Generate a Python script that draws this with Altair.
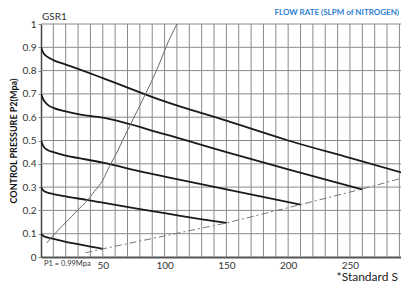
import altair as alt
import pandas as pd

# pressure curves (flow SLPM, P2 MPa)
c09_x = [0, 2, 5, 10, 20, 30, 50, 100, 150, 200, 250, 300]
c09_y = [0.9, 0.875, 0.86, 0.845, 0.826, 0.807, 0.768, 0.668, 0.585, 0.50, 0.425, 0.35]
c07_x = [0, 2, 5, 10, 20, 30, 50, 100, 150, 200, 260]
c07_y = [0.7, 0.675, 0.655, 0.64, 0.625, 0.613, 0.598, 0.527, 0.45, 0.376, 0.29]
c05_x = [0, 2, 5, 10, 20, 30, 50, 80, 100, 150, 210]
c05_y = [0.5, 0.475, 0.46, 0.45, 0.435, 0.425, 0.405, 0.368, 0.345, 0.29, 0.225]
c03_x = [0, 2, 5, 10, 20, 37, 50, 80, 100, 129, 150]
c03_y = [0.3, 0.285, 0.277, 0.27, 0.26, 0.245, 0.233, 0.205, 0.188, 0.163, 0.146]
c01_x = [0, 2, 5, 10, 20, 30, 40, 50]
c01_y = [0.1, 0.09, 0.084, 0.078, 0.065, 0.055, 0.045, 0.035]

# end-point (dash-dot) line
dd_x = [36, 50, 150, 210, 260, 300]
dd_y = [0.018, 0.035, 0.146, 0.225, 0.292, 0.35]

# thin rising curve
th_x = [4.6, 10, 18, 25, 30, 37, 43, 50, 56, 62, 66, 72, 80, 85, 90, 95, 103.5, 110]
th_y = [0.06, 0.093, 0.137, 0.175, 0.203, 0.24, 0.28, 0.33, 0.395, 0.455, 0.50,
        0.565, 0.65, 0.705, 0.76, 0.82, 0.93, 1.0]

x_grid = list(range(10, 291, 10))
y_grid = [round(k / 10, 1) for k in range(1, 11)]
x_labels = [50, 100, 150, 200, 250]
y_labels = [round(k / 10, 1) for k in range(0, 11)]

rows = []
for name, xs_, ys_ in [("0.9", c09_x, c09_y), ("0.7", c07_x, c07_y), ("0.5", c05_x, c05_y),
                       ("0.3", c03_x, c03_y), ("0.1", c01_x, c01_y)]:
    for a, b in zip(xs_, ys_):
        rows.append({"s": name, "q": a, "p": b})
curves = pd.DataFrame(rows)
dd = pd.DataFrame({"q": dd_x, "p": dd_y})
th = pd.DataFrame({"q": th_x, "p": th_y})
gx = pd.DataFrame({"q": x_grid})
gy = pd.DataFrame({"p": y_grid})

FONT = "Lato"
XMAX = 291.3
xs = alt.Scale(domain=[0, XMAX], nice=False)
ys = alt.Scale(domain=[0, 1], nice=False)

xax = alt.Axis(values=x_labels, grid=False, ticks=False, domainColor="#555555", domainWidth=2,
               labelFont=FONT, labelFontSize=10, labelColor="#333333", labelPadding=3,
               labelOverlap=False, title=None, labelFlush=False)
yax = alt.Axis(values=y_labels, grid=False, tickSize=3, tickColor="#8a8a8a",
               domainColor="#444444", domainWidth=1.5,
               format="~g", labelFont=FONT, labelFontSize=10, labelColor="#333333",
               labelOverlap=False, labelFlush=False,
               labelPadding=2, title="CONTROL PRESSURE P2(Mpa)", titleFont=FONT,
               titleFontSize=9, titleFontWeight="bold", titleColor="#111111",
               titlePadding=4)

gridx = alt.Chart(gx).mark_rule(color="#8a8a8a", strokeWidth=1).encode(
    x=alt.X("q:Q", scale=xs, axis=xax))
gridy = alt.Chart(gy).mark_rule(color="#8a8a8a", strokeWidth=1).encode(
    y=alt.Y("p:Q", scale=ys, axis=yax))

X = alt.X("q:Q", scale=xs, axis=xax)
Y = alt.Y("p:Q", scale=ys, axis=yax)

base = alt.Chart(curves).mark_line(color="#1a1a1a", strokeWidth=1.8, interpolate="monotone",
                                   clip=True).encode(x=X, y=Y, detail="s:N")

thin = alt.Chart(th).mark_line(color="#6a6a6a", strokeWidth=1, interpolate="monotone",
                               clip=True).encode(x=X, y=Y)

dash = alt.Chart(dd).mark_line(color="#777777", strokeWidth=1, strokeDash=[7, 3, 2, 3],
                               clip=True).encode(x=X, y=Y)

ann = pd.DataFrame({"t": ["x"]})


def label(text, x, y, size, color, align="left", weight="normal", font=FONT):
    return alt.Chart(ann).mark_text(text=text, align=align, baseline="middle",
                                    fontSize=size, color=color, fontWeight=weight,
                                    font=font).encode(x=alt.value(x), y=alt.value(y))


texts = [
    label("GSR1", 1, -7, 10, "#333333"),
    label("FLOW RATE (SLPM of NITROGEN)", 358, -11, 8, "#2f7fd0", align="right", weight="bold"),
    label("P1 = 0.99Mpa", 3, 240, 7.5, "#333333"),
    label("*Standard S", 357, 253, 12, "#222222", align="right"),
]

chart = alt.layer(gridx, gridy, base, thin, dash, *texts).properties(
    width=360, height=233,
    autosize=alt.AutoSizeParams(type="none"),
    padding={"left": 33, "top": 16, "right": 0, "bottom": 26},
).configure_view(stroke=None)

chart.save("out.html", embed_options={"renderer": "svg", "actions": False})
